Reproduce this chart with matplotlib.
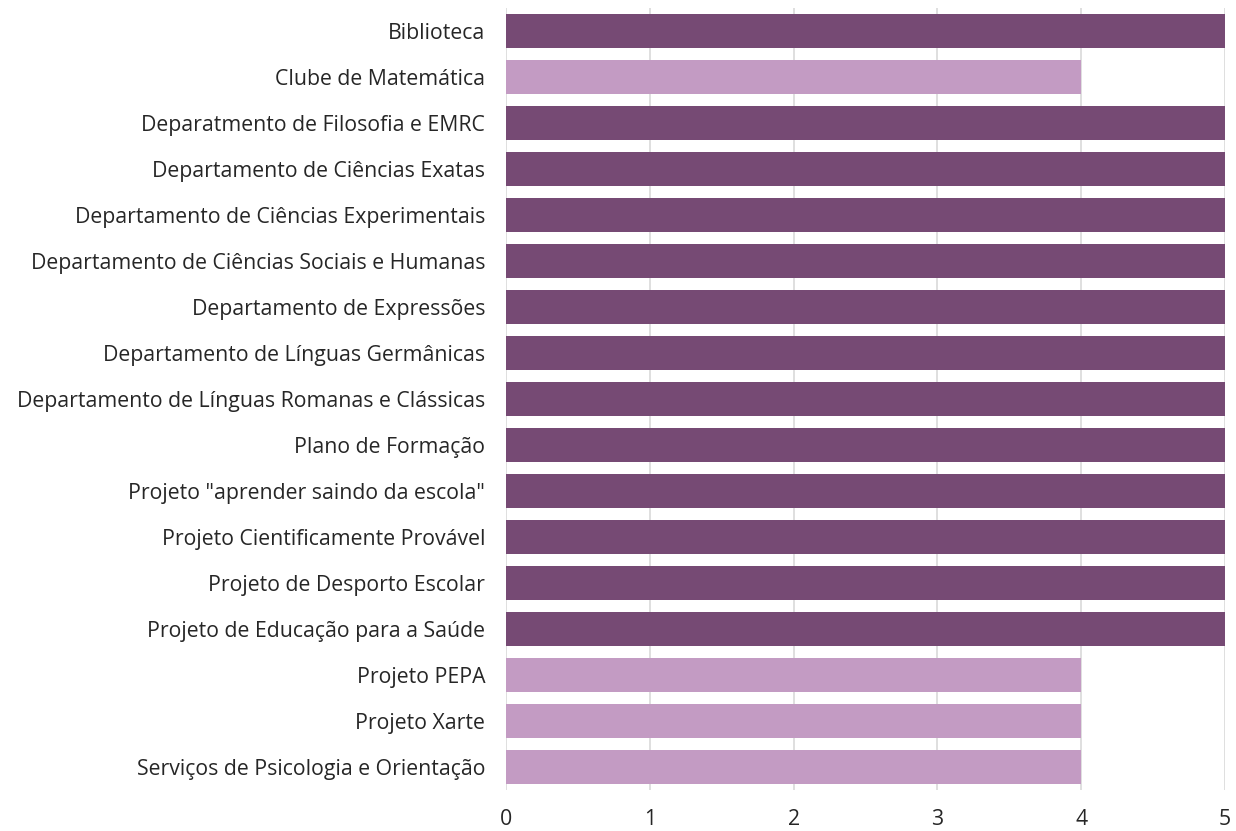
import matplotlib
matplotlib.use("Agg")
import matplotlib.pyplot as plt

categories = [
    "Biblioteca",
    "Clube de Matemática",
    "Deparatmento de Filosofia e EMRC",
    "Departamento de Ciências Exatas",
    "Departamento de Ciências Experimentais",
    "Departamento de Ciências Sociais e Humanas",
    "Departamento de Expressões",
    "Departamento de Línguas Germânicas",
    "Departamento de Línguas Romanas e Clássicas",
    "Plano de Formação",
    "Projeto \"aprender saindo da escola\"",
    "Projeto Cientificamente Provável",
    "Projeto de Desporto Escolar",
    "Projeto de Educação para a Saúde",
    "Projeto PEPA",
    "Projeto Xarte",
    "Serviços de Psicologia e Orientação",
]
values = [5, 4, 5, 5, 5, 5, 5, 5, 5, 5, 5, 5, 5, 5, 4, 4, 4]
x_ticks = [0, 1, 2, 3, 4, 5]

DARK = "#764A74"
LIGHT = "#C39BC3"
colors = [DARK if v == 5 else LIGHT for v in values]

plt.rcParams['font.family'] = ['Open Sans', 'DejaVu Sans']

fig = plt.figure(figsize=(12.36, 8.31), dpi=100)
ax = fig.add_axes([506/1236, 1 - 790/831, (1225-506)/1236, (790-8)/831])

y = list(range(len(categories)))
ax.barh(y, values, height=0.72, color=colors, zorder=3)
ax.set_ylim(len(categories) - 0.5, -0.5)
ax.set_xlim(0, 5)
ax.set_yticks(y)
ax.set_yticklabels(categories, fontsize=15.3, color="#262626")
ax.set_xticks(x_ticks)
ax.set_xticklabels([str(t) for t in x_ticks], fontsize=15.3, color="#262626")
ax.tick_params(axis='y', length=0, pad=15)
ax.tick_params(axis='x', length=0, pad=14)
ax.grid(axis='x', color="#D9D9D9", linewidth=1.2, zorder=0)
for s in ax.spines.values():
    s.set_visible(False)

fig.savefig("out.png", dpi=100)
